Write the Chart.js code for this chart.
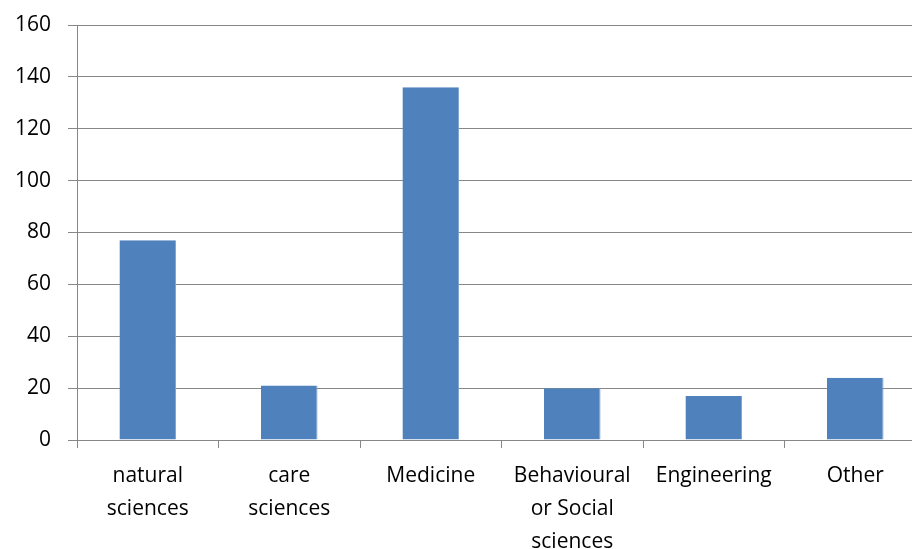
<!DOCTYPE html>
<html>
<head>
<meta charset="utf-8">
<script src="https://cdn.jsdelivr.net/npm/chart.js@4"></script>
<style>
  html, body { margin: 0; padding: 0; background: #fff; overflow: hidden; }
  #wrap { width: 932px; height: 549px; }
</style>
</head>
<body>
<div id="wrap"><canvas id="barChart"></canvas></div>
<script>
// chart data
const categories = [
  ["natural", "sciences"],
  ["care", "sciences"],
  "Medicine",
  ["Behavioural", "or Social", "sciences"],
  "Engineering",
  "Other"
];
const counts = [77, 21, 136, 20, 17, 24];
const yTicks = [0, 20, 40, 60, 80, 100, 120, 140, 160];

const gridGray = "#878787";

const ctx = document.getElementById("barChart").getContext("2d");
const chart = new Chart(ctx, {
  type: "bar",
  data: {
    labels: categories,
    datasets: [{
      data: counts,
      backgroundColor: "#4F81BD",
      borderColor: "#7FA3D0",
      borderWidth: { top: 0, left: 0, bottom: 0, right: 1 },
      categoryPercentage: 1,
      barPercentage: 0.4
    }]
  },
  options: {
    responsive: true,
    maintainAspectRatio: false,
    animation: false,
    layout: { padding: { top: 25, right: 6, left: 0, bottom: 0 } },
    plugins: { legend: { display: false }, tooltip: { enabled: false } },
    scales: {
      x: {
        grid: { drawOnChartArea: false, drawTicks: true, tickLength: 8, color: gridGray, lineWidth: 1 },
        border: { color: gridGray, width: 1 },
        ticks: { color: "#000", padding: 12, font: { family: "Open Sans", size: 21, lineHeight: 1.57 }, maxRotation: 0, autoSkip: false },
        afterFit: s => { s.height = 109; }
      },
      y: {
        min: 0,
        max: 160,
        afterBuildTicks: s => { s.ticks = yTicks.map(v => ({ value: v })); },
        grid: { color: gridGray, lineWidth: 1, tickLength: 9 },
        border: { color: gridGray, width: 1 },
        ticks: { color: "#000", padding: 17, font: { family: "Open Sans", size: 21 } },
        afterFit: s => { s.width = 77; s.paddingTop = 0; s.paddingBottom = 0; }
      }
    }
  }
});
</script>
</body>
</html>
